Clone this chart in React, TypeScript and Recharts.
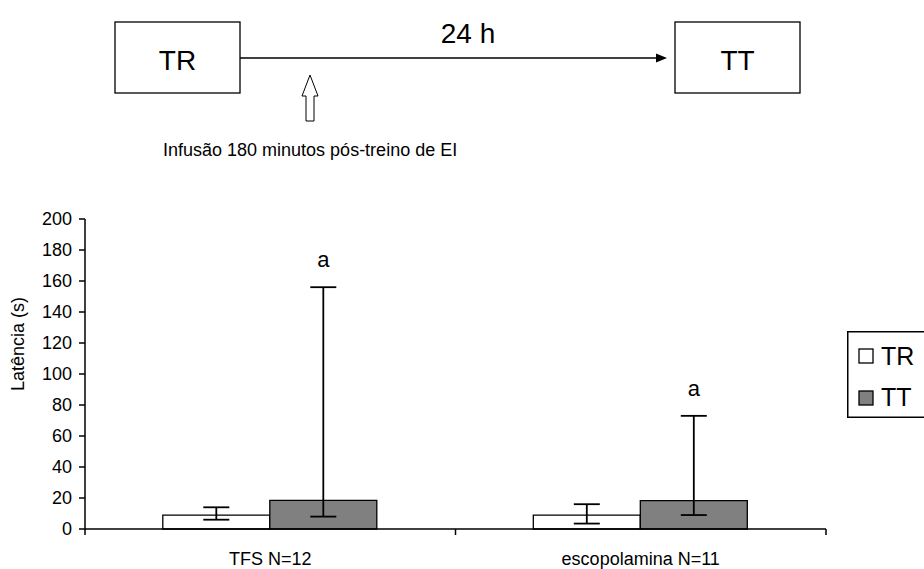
import React from "react";
import { Bar, BarChart, ErrorBar, LabelList, Legend, XAxis, YAxis } from "recharts";

const categories = ["TFS N=12", "escopolamina N=11"];
const trMean = [9, 9];
const trLow = [6, 3.5];
const trHigh = [14, 16];
const ttMean = [18.5, 18.3];
const ttLow = [8, 9];
const ttHigh = [156, 73];
const marks = ["a", "a"];
const yTicks = [0, 20, 40, 60, 80, 100, 120, 140, 160, 180, 200];

const FONT = "'Liberation Sans', Arial, sans-serif";

const data = categories.map((name, i) => ({
  name,
  TR: trMean[i],
  TT: ttMean[i],
  trErr: [trMean[i] - trLow[i], trHigh[i] - trMean[i]],
  ttErr: [ttMean[i] - ttLow[i], ttHigh[i] - ttMean[i]],
}));

// label under each group + Excel-like tick marks at category borders
function CategoryTick(props: any) {
  const { x, y, payload, index } = props;
  const half = payload?.offset ?? 0;
  const axisY = y - 8;
  return (
    <g>
      {index === 0 && <line x1={x - half} x2={x - half} y1={axisY} y2={axisY + 6} stroke="#000" strokeWidth={1.5} />}
      <line x1={x + half} x2={x + half} y1={axisY} y2={axisY + 6} stroke="#000" strokeWidth={1.5} />
      <text x={x} y={axisY + 36} textAnchor="middle" fontSize={18} fill="#000" fontFamily={FONT}>
        {payload.value}
      </text>
    </g>
  );
}

// "a" placed above the top of the TT error bar
function MarkLabel(props: any) {
  const vb = props.viewBox ?? props;
  const { x, y, width, height } = vb;
  const index = props.index ?? 0;
  const value = ttMean[index];
  if (!height || !value) return null;
  const perUnit = height / value;
  const top = y + height - ttHigh[index] * perUnit;
  return (
    <text x={x + width / 2} y={top - 20} textAnchor="middle" fontSize={22} fill="#000" fontFamily={FONT}>
      {marks[index]}
    </text>
  );
}

function YLabel(props: any) {
  const vb = props.viewBox ?? { y: 219, height: 310 };
  const cy = vb.y + vb.height / 2 - 30;
  return (
    <text
      x={18}
      y={cy}
      transform={`rotate(-90 18 ${cy})`}
      textAnchor="middle"
      dominantBaseline="central"
      fontSize={18}
      fill="#000"
      fontFamily={FONT}
    >
      Latência (s)
    </text>
  );
}

function LegendBox() {
  return (
    <svg width={80} height={87} style={{ display: "block" }}>
      <rect x={0.75} y={0.75} width={90} height={85.5} fill="#fff" stroke="#000" strokeWidth={1.5} />
      <rect x={12} y={18} width={14} height={14} fill="#fff" stroke="#000" strokeWidth={1.3} />
      <text x={34} y={34} fontSize={25} fill="#000" fontFamily={FONT}>TR</text>
      <rect x={12} y={60} width={14} height={14} fill="#808080" stroke="#000" strokeWidth={1.3} />
      <text x={34} y={75} fontSize={25} fill="#000" fontFamily={FONT}>TT</text>
    </svg>
  );
}

function Protocol() {
  return (
    <svg width={924} height={569} style={{ position: "absolute", left: 0, top: 0, pointerEvents: "none" }}>
      <g fontFamily={FONT} fill="#000">
        <rect x={115} y={22} width={125} height={71} fill="none" stroke="#000" strokeWidth={1.3} />
        <text x={177.5} y={70} textAnchor="middle" fontSize={28}>TR</text>
        <line x1={240} y1={58} x2={658} y2={58} stroke="#000" strokeWidth={1.3} />
        <polygon points="667,58 656,53.5 656,62.5" fill="#000" />
        <text x={468} y={43} textAnchor="middle" fontSize={28}>24 h</text>
        <rect x={675} y={22} width={125} height={71} fill="none" stroke="#000" strokeWidth={1.3} />
        <text x={737.5} y={70} textAnchor="middle" fontSize={28}>TT</text>
        <polygon
          points="310,75 318,96 314,96 314,121 306,121 306,96 302,96"
          fill="#fff"
          stroke="#000"
          strokeWidth={1}
        />
        <text x={163} y={156} fontSize={18}>Infusão 180 minutos pós-treino de EI</text>
      </g>
    </svg>
  );
}

export default function App() {
  return (
    <div style={{ position: "absolute", left: 0, top: 0, width: 924, height: 569, overflow: "hidden", background: "#fff" }}>
      <BarChart
        width={924}
        height={569}
        data={data}
        margin={{ top: 219, right: 98, bottom: 10, left: 0 }}
        barCategoryGap="21%"
        barGap={0}
      >
        <XAxis
          dataKey="name"
          height={30}
          axisLine={{ stroke: "#000", strokeWidth: 1.5 }}
          tickLine={false}
          tickSize={6}
          tickMargin={2}
          tick={<CategoryTick />}
          interval={0}
        />
        <YAxis
          width={85}
          domain={[0, 200]}
          ticks={yTicks}
          interval={0}
          axisLine={{ stroke: "#000", strokeWidth: 1.5 }}
          tickLine={{ stroke: "#000", strokeWidth: 1.5 }}
          tickSize={6}
          tickMargin={7}
          tick={{ fill: "#000", fontSize: 18, fontFamily: FONT }}
          label={{ content: <YLabel /> }}
        />
        <Legend
          layout="vertical"
          align="center"
          verticalAlign="middle"
          content={<LegendBox />}
          wrapperStyle={{ position: "absolute", left: 847, top: 331, width: 80, height: 87 }}
        />
        <Bar dataKey="TR" fill="#fff" stroke="#000" strokeWidth={1.3} isAnimationActive={false}>
          <ErrorBar dataKey="trErr" direction="y" width={13} stroke="#000" strokeWidth={1.8} />
        </Bar>
        <Bar dataKey="TT" fill="#808080" stroke="#000" strokeWidth={1.3} isAnimationActive={false}>
          <ErrorBar dataKey="ttErr" direction="y" width={13} stroke="#000" strokeWidth={1.8} />
          <LabelList dataKey="TT" content={<MarkLabel />} />
        </Bar>
      </BarChart>
      <Protocol />
    </div>
  );
}
